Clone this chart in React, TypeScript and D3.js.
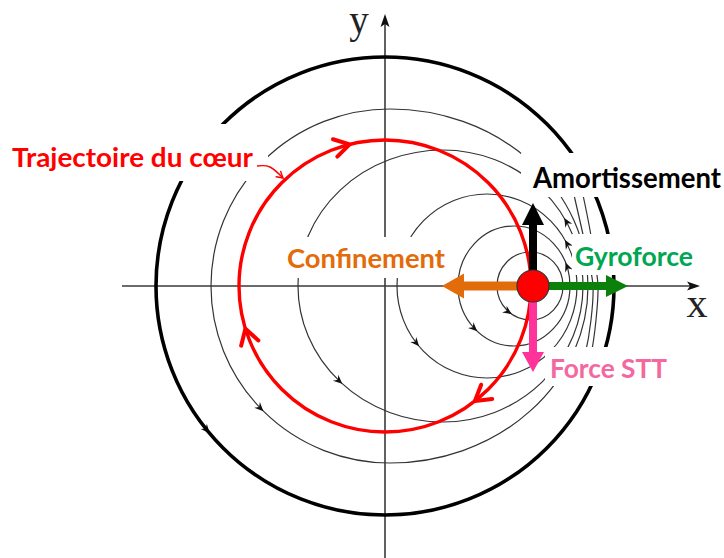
import React from 'react';
import * as d3 from 'd3';

type P = [number, number];

// Figure units: origin at the crossing of the x / y axes, y pointing up.
const diskRadius = 229;
const orbitRadius = 146;
const corePosition: P = [148, 0];
const coreRadius = 16;

// arrowheads on the red orbit (degrees, counter-clockwise from +x); travel is clockwise
const orbitArrowAngles = [104, 197, 308];

// thin closed streamlines, each an egg made of two half-ellipses
const streamCenters = [145.5, 129, 102, 58, 5];
const streamLeftHalfWidths = [33.5, 56, 90, 145, 179];
const streamRightHalfWidths = [32.5, 56, 90, 140, 198];
const streamHalfHeights = [34, 60, 92, 136, 177];

// short streamlines bunched on the right edge (open)
const streamE1: P[] = [[189, 91], [197, 56], [204, 24], [208, 0], [206, -34], [200, -69], [193, -92]];
const streamE2: P[] = [[198, 91], [205, 56], [210, 24], [213, 0], [211, -34], [206, -69], [200, -92]];
const openStreams = [streamE1, streamE2];

// small arrowheads: which line (0-4 streamlines, 5 = disk edge) and where (degrees along it)
const streamArrowLine = [5, 4, 3, 2, 1, 0, 3, 2, 1];
const streamArrowAngle = [220, 225, 226, 221, 229, 236, 30, 30, 23];

// forces applied on the core: tip of each vector
const forceNames = ['Confinement', 'Gyroforce', 'Amortissement', 'Force STT'];
const forceTips: P[] = [[57, 0], [243, 0], [148, 83], [148, -86]];
const forceColors = ['#E36C0A', '#0B800B', '#000000', '#FF3399'];

// annotation pointer from the label to the orbit
const pointerPath: P[] = [[-128, 120], [-115, 119], [-102, 108]];

const W = 724;
const H = 558;

const labelLayout = [
  { text: 'Trajectoire du cœur', color: '#FF0000', x: 12, y: 167, len: 241, size: 26, box: [0, 124, 268, 181] },
  { text: 'Amortissement', color: '#000000', x: 533, y: 188, len: 188, size: 28, box: [521, 153, 724, 197] },
  { text: 'Gyroforce', color: '#00A651', x: 575, y: 266, len: 118, size: 27, box: [572, 234, 700, 275] },
  { text: 'Confinement', color: '#E36C0A', x: 287, y: 268, len: 158, size: 27, box: [283, 237, 447, 278] },
  { text: 'Force STT', color: '#F4679F', x: 550, y: 378, len: 117, size: 27, box: [545, 347, 680, 386] },
];

export default function App() {
  const x = d3.scaleLinear().domain([-385, 339]).range([0, W]);
  const y = d3.scaleLinear().domain([286, -272]).range([0, H]);
  const u = (v: number) => x(v) - x(0);

  const openLine = d3.line<P>().x((d) => x(d[0])).y((d) => y(d[1])).curve(d3.curveCatmullRom.alpha(0.5));
  const pointerLine = d3.line<P>().x((d) => x(d[0])).y((d) => y(d[1])).curve(d3.curveNatural);

  const axisColor = '#3a3a3a';
  const x0 = x(0);
  const y0 = y(0);
  const xAxisStart = x(-263);
  const xAxisEnd = x(315);
  const yAxisTop = y(272);
  const yAxisBottom = y(-272);

  const core = [x(corePosition[0]), y(corePosition[1])];

  // egg-shaped streamline path (clockwise on screen, through left, top, right, bottom)
  const eggPath = (i: number) => {
    const c = streamCenters[i];
    const a1 = u(streamLeftHalfWidths[i]);
    const a2 = u(streamRightHalfWidths[i]);
    const ry = u(streamHalfHeights[i]);
    const cx = x(c);
    return `M${cx - a1},${y0} A${a1},${ry} 0 0 1 ${cx},${y0 - ry} A${a2},${ry} 0 0 1 ${cx + a2},${y0} A${a2},${ry} 0 0 1 ${cx},${y0 + ry} A${a1},${ry} 0 0 1 ${cx - a1},${y0} Z`;
  };

  // position and screen heading of a small arrow (travel counter-clockwise)
  const arrowPose = (line: number, deg: number) => {
    const t = (deg * Math.PI) / 180;
    let c = 0, a = diskRadius, ry = diskRadius;
    if (line < 5) {
      c = streamCenters[line];
      a = Math.cos(t) < 0 ? streamLeftHalfWidths[line] : streamRightHalfWidths[line];
      ry = streamHalfHeights[line];
    }
    const px = x(c + a * Math.cos(t));
    const py = y(ry * Math.sin(t));
    const dx = -a * Math.sin(t);
    const dy = ry * Math.cos(t);
    const ang = (Math.atan2(-dy, dx) * 180) / Math.PI;
    return { px, py, ang };
  };

  // block arrow path, pointing +x, length L
  const blockArrow = (L: number, w: number, hw: number, hl: number) =>
    `M0,${-w / 2} L${L - hl},${-w / 2} L${L - hl},${-hw / 2} L${L},0 L${L - hl},${hw / 2} L${L - hl},${w / 2} L0,${w / 2} Z`;

  const pEnd = pointerPath[pointerPath.length - 1];
  const pPrev = pointerPath[pointerPath.length - 2];
  const pAng = (Math.atan2(y(pEnd[1]) - y(pPrev[1]), x(pEnd[0]) - x(pPrev[0])) * 180) / Math.PI;

  return (
    <svg width={W} height={H} style={{ position: 'absolute', left: 0, top: 0, display: 'block', background: '#fff' }}>
      <rect x={0} y={0} width={W} height={H} fill="#ffffff" />

      {/* axes */}
      <line x1={xAxisStart} y1={y0} x2={xAxisEnd - 8} y2={y0} stroke={axisColor} strokeWidth={1.6} />
      <path d={`M${xAxisEnd},${y0} L${xAxisEnd - 13},${y0 - 4.5} L${xAxisEnd - 10},${y0} L${xAxisEnd - 13},${y0 + 4.5} Z`} fill="#111" />
      <line x1={x0} y1={yAxisBottom} x2={x0} y2={yAxisTop + 8} stroke={axisColor} strokeWidth={1.6} />
      <path d={`M${x0},${yAxisTop} L${x0 - 4.5},${yAxisTop + 13} L${x0},${yAxisTop + 10} L${x0 + 4.5},${yAxisTop + 13} Z`} fill="#111" />
      <text x={359} y={33} fontFamily="'Liberation Serif', 'DejaVu Serif', serif" fontSize={39} textAnchor="middle" fill="#222">y</text>
      <text x={697} y={317} fontFamily="'Liberation Serif', 'DejaVu Serif', serif" fontSize={42} textAnchor="middle" fill="#222">x</text>

      {/* streamlines */}
      {streamCenters.map((_, i) => (
        <path key={`c${i}`} d={eggPath(i)} fill="none" stroke="#333" strokeWidth={1.2} />
      ))}
      {openStreams.map((s, i) => (
        <path key={`o${i}`} d={openLine(s) || ''} fill="none" stroke="#333" strokeWidth={1.2} />
      ))}
      {streamArrowLine.map((line, i) => {
        const p = arrowPose(line, streamArrowAngle[i]);
        return (
          <path
            key={`a${i}`}
            d="M0,0 L-9,-4 L-6,0 L-9,4 Z"
            fill="#111"
            transform={`translate(${p.px},${p.py}) rotate(${p.ang})`}
          />
        );
      })}

      {/* disk edge */}
      <circle cx={x0} cy={y0} r={u(diskRadius)} fill="none" stroke="#000" strokeWidth={3.6} />

      {/* core orbit */}
      <circle cx={x0} cy={y0} r={u(orbitRadius)} fill="none" stroke="#FF0000" strokeWidth={3.4} />
      {orbitArrowAngles.map((a, i) => {
        const r = (a * Math.PI) / 180;
        const px = x(orbitRadius * Math.cos(r));
        const py = y(orbitRadius * Math.sin(r));
        const ang = (Math.atan2(Math.cos(r), Math.sin(r)) * 180) / Math.PI;
        return (
          <path
            key={`r${i}`}
            d="M-15,-9 L0,0 L-15,9"
            fill="none"
            stroke="#FF0000"
            strokeWidth={4}
            strokeLinecap="round"
            strokeLinejoin="round"
            transform={`translate(${px},${py}) rotate(${ang})`}
          />
        );
      })}

      {/* label backgrounds and labels */}
      {labelLayout.map((l, i) => (
        <rect key={`b${i}`} x={l.box[0]} y={l.box[1]} width={l.box[2] - l.box[0]} height={l.box[3] - l.box[1]} fill="#fff" />
      ))}
      {labelLayout.map((l, i) => (
        <text
          key={`t${i}`}
          x={l.x}
          y={l.y}
          fill={l.color}
          fontFamily="Lato, 'Open Sans', 'DejaVu Sans', sans-serif"
          fontWeight={700}
          fontSize={l.size}
          textLength={l.len}
          lengthAdjust="spacingAndGlyphs"
        >
          {l.text}
        </text>
      ))}

      {/* pointer from label to orbit */}
      <path d={pointerLine(pointerPath) || ''} fill="none" stroke="#FF0000" strokeWidth={1.4} />
      <path
        d="M-6,-3.5 L0,0 L-6,3.5"
        fill="none"
        stroke="#FF0000"
        strokeWidth={1.4}
        strokeLinecap="round"
        transform={`translate(${x(pEnd[0])},${y(pEnd[1])}) rotate(${pAng})`}
      />

      {/* forces on the core */}
      {forceTips.map((t, i) => {
        const tx = x(t[0]);
        const ty = y(t[1]);
        const L = Math.hypot(tx - core[0], ty - core[1]);
        const ang = (Math.atan2(ty - core[1], tx - core[0]) * 180) / Math.PI;
        const w = i === 0 ? 9 : 8;
        const hw = i === 0 ? 25 : 22;
        const hl = i === 3 ? 20 : 22;
        return (
          <path
            key={`f${i}`}
            d={blockArrow(L, w, hw, hl)}
            fill={forceColors[i]}
            transform={`translate(${core[0]},${core[1]}) rotate(${ang})`}
          >
            <title>{forceNames[i]}</title>
          </path>
        );
      })}

      {/* vortex core */}
      <circle cx={core[0]} cy={core[1]} r={coreRadius} fill="#FF0000" stroke="#333" strokeWidth={1.2} />
    </svg>
  );
}
